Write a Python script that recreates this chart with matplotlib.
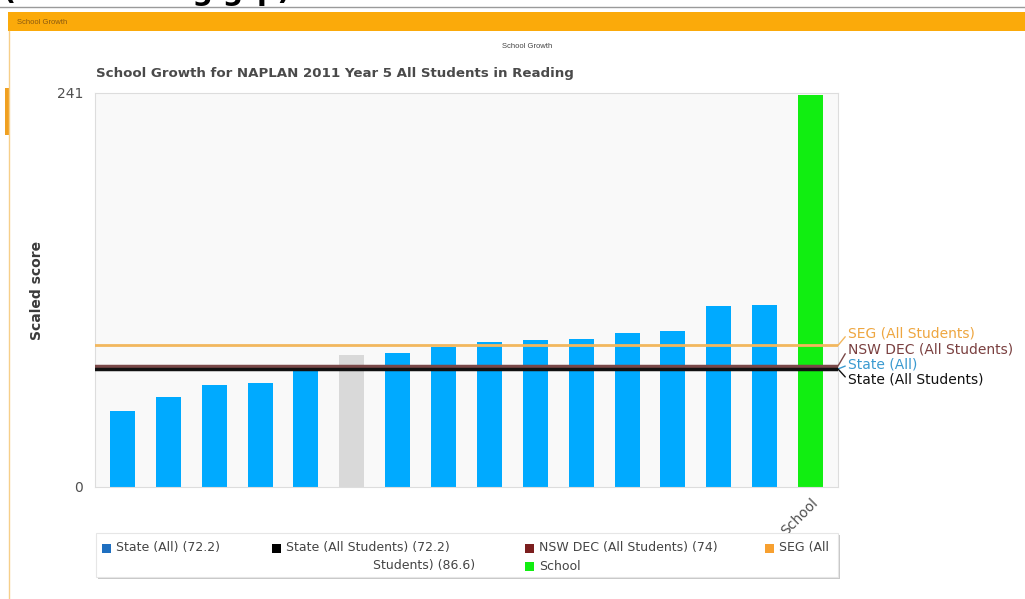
import matplotlib
matplotlib.use("Agg")
import matplotlib.pyplot as plt
from matplotlib.patches import Rectangle
from matplotlib.lines import Line2D

# data
categories = [""] * 15 + ["School"]
scores = [46.7, 55.0, 62.2, 63.4, 73.0, 80.5, 82.2, 85.4, 88.9, 89.9, 90.5, 94.4, 95.2, 110.7, 111.3, 240]
bar_kind = ["other"] * 5 + ["grey"] + ["other"] * 9 + ["school"]

ref_names = ["SEG (All Students)", "NSW DEC (All Students)", "State (All)", "State (All Students)"]
ref_values = [86.6, 74.0, 72.2, 72.2]
y_max = 241

legend_row1 = ["State (All) (72.2)", "State (All Students) (72.2)", "NSW DEC (All Students) (74)", "SEG (All"]
legend_row2 = ["Students) (86.6)", "School"]

W, H = 1025, 599


def fx(x):
    return x / W


def fy(y):
    return 1 - y / H


fig = plt.figure(figsize=(W / 100, H / 100), dpi=100)
fig.patch.set_facecolor("white")

# page header bits (the big heading is cut off by the top edge, as in the screenshot)
fig.text(fx(3), fy(0.5), "(SEG reading grp)", fontsize=20.5, fontweight="bold",
         color="black", ha="left", va="baseline")
fig.add_artist(Line2D([0, 1], [fy(6.5), fy(6.5)], color="#9a9a9a", lw=1))
fig.add_artist(Rectangle((fx(8), fy(31)), 1 - fx(8), (31 - 12) / H,
                         transform=fig.transFigure, facecolor="#fbaa0a", edgecolor="none"))
fig.text(fx(17), fy(22), "School Growth", fontsize=5.5, color="#8a5a10",
         family="Liberation Sans", va="center")
fig.add_artist(Line2D([fx(8.5), fx(8.5)], [0, fy(31)], color="#f6cf8a", lw=1))
fig.add_artist(Rectangle((fx(5), fy(135)), 4 / W, 47 / H,
                         transform=fig.transFigure, facecolor="#f0a020", edgecolor="none"))
fig.text(fx(527), fy(47), "School Growth", fontsize=5.5, color="#444444",
         family="Liberation Sans", ha="center", va="center")
fig.text(fx(96), fy(74), "School Growth for NAPLAN 2011 Year 5 All Students in Reading",
         fontsize=9.6, fontweight="bold", color="#4a4a4a", va="center")

ax = fig.add_axes([fx(95), fy(487), fx(838) - fx(95), (487 - 93) / H])
ax.set_facecolor("#f9f9f9")

colors = {"other": "#00aaff", "grey": "#d9d9d9", "school": "#11ee11"}
x = list(range(len(scores)))
ax.bar(x, scores, width=0.545, color=[colors[k] for k in bar_kind], zorder=2)

line_colors = ["#f2b75e", "#7a4848", "#3a9ad0", "#111111"]
text_colors = ["#eea640", "#7a4040", "#3a9ad0", "#111111"]
line_widths = [2, 2.5, 0, 2.5]
label_offsets = [12, 17, 4, -11]
for name, val, c, tc, lw, off in zip(ref_names, ref_values, line_colors, text_colors,
                                     line_widths, label_offsets):
    if lw > 0:
        ax.axhline(val, color=c, lw=lw, zorder=3)
    ax.annotate(name, xy=(1.0, val), xycoords=ax.get_yaxis_transform(),
                xytext=(10, off), textcoords="offset pixels",
                ha="left", va="center", fontsize=10, color=tc,
                annotation_clip=False,
                arrowprops=dict(arrowstyle="-", color=c, lw=1,
                                shrinkA=0, shrinkB=0, relpos=(0, 0.5)))

ax.set_xlim(-0.6, len(scores) - 0.4)
ax.set_ylim(0, y_max)
ax.set_yticks([0, y_max])
ax.set_yticklabels(["0", str(y_max)])
ax.set_xticks(x)
ax.set_xticklabels(categories, rotation=45, ha="right", va="top", rotation_mode="anchor")
ax.tick_params(axis="both", length=0, labelsize=10, labelcolor="#505050")
ax.tick_params(axis="y", pad=8.5)
ax.tick_params(axis="x", pad=6)
for s in ax.spines.values():
    s.set_color("#dddddd")
    s.set_linewidth(0.8)
ax.set_ylabel("Scaled score", fontsize=10, fontweight="bold", color="#3a3a3a")
ax.yaxis.set_label_coords((44 - 95) / (838 - 95), 0.5)

# legend box
fig.add_artist(Rectangle((fx(98), fy(579)), (838 - 96) / W, (579 - 535) / H,
                         transform=fig.transFigure, facecolor="#c8c8c8", edgecolor="none"))
fig.add_artist(Rectangle((fx(96), fy(577)), (838 - 96) / W, (577 - 533) / H,
                         transform=fig.transFigure, facecolor="white", edgecolor="#e6e6e6", lw=0.8))
leg_colors = ["#1f6fc0", "#000000", "#7b1e1e", "#f7a030"]
row1_x = [102, 272, 525, 765]
for t, c, px in zip(legend_row1, leg_colors, row1_x):
    fig.add_artist(Rectangle((fx(px), fy(553)), 9 / W, 9 / H,
                             transform=fig.transFigure, facecolor=c, edgecolor="none"))
    fig.text(fx(px + 14), fy(548), t, fontsize=9, color="#444444", va="center")
fig.text(fx(475), fy(566), legend_row2[0], fontsize=9, color="#444444", va="center", ha="right")
fig.add_artist(Rectangle((fx(525), fy(571)), 9 / W, 9 / H,
                         transform=fig.transFigure, facecolor="#11ee11", edgecolor="none"))
fig.text(fx(539), fy(566), legend_row2[1], fontsize=9, color="#444444", va="center")

fig.savefig("out.png", dpi=100)
